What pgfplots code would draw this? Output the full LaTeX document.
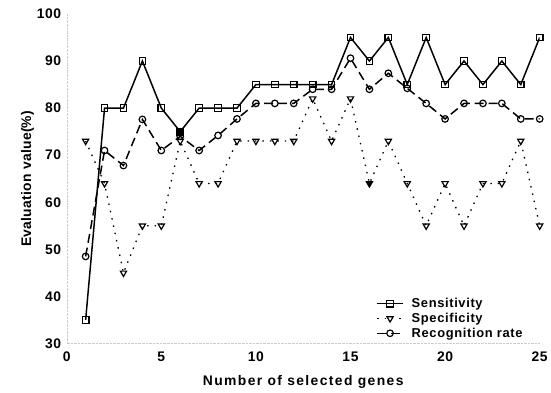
\documentclass[border=0pt]{standalone}
\usepackage{fontspec}
\setmainfont{Liberation Sans}
\usepackage{pgfplots}
\pgfplotsset{compat=1.18}
\begin{document}
\begin{tikzpicture}[x=1bp,y=1bp]
\begin{axis}[
  scale only axis, width=475bp, height=331bp,
  at={(0,0)}, anchor=south west,
  xmin=0, xmax=25, ymin=30, ymax=100,
  xtick={0,5,10,15,20,25}, ytick={30,40,50,60,70,80,90,100},
  axis lines=left, axis line style={draw=gray!40, densely dotted, -},
  tick style={draw=none},
  /pgf/number format/assume math mode=true,
  ticklabel style={font=\fontsize{14}{16}\selectfont\bfseries\addfontfeatures{LetterSpace=4}},
  xticklabel style={yshift=-3bp},
  xlabel={\fontsize{14}{16}\selectfont\bfseries\addfontfeatures{LetterSpace=10}Number of selected genes},
  ylabel={\fontsize{14}{16}\selectfont\bfseries\addfontfeatures{LetterSpace=2}Evaluation value(\%)},
  xlabel style={yshift=-7bp},
  ylabel style={yshift=-4bp},
  legend style={draw=none, fill=none, at={(0.648,0.15)}, anchor=north west,
    font=\fontsize{13}{15}\selectfont\bfseries\addfontfeatures{LetterSpace=5}, row sep=0bp,
    /tikz/every odd column/.append style={column sep=6bp}},
  legend cell align=left,
  legend image code/.code={\draw[mark repeat=2,mark phase=2] plot coordinates {(0bp,0bp) (13bp,0bp) (26bp,0bp)};},
]
\addplot[black, line width=1.5pt, mark=square, mark size=3.3bp,
  mark options={solid, fill=white, line width=1.2pt}] coordinates {
 (1,35)(2,80)(3,80)(4,90)(5,80)(6,75)(7,80)(8,80)(9,80)(10,85)
 (11,85)(12,85)(13,85)(14,85)(15,95)(16,90)(17,95)(18,85)(19,95)(20,85)
 (21,90)(22,85)(23,90)(24,85)(25,95)};
\addlegendentry{Sensitivity}
\addplot[black, line width=1.3pt, dash pattern=on 1.5pt off 6pt, mark=triangle, mark size=3.6bp,
  mark options={solid, fill=white, rotate=180, line width=1.2pt}] coordinates {
 (1,73)(2,64)(3,45)(4,55)(5,55)(6,73)(7,64)(8,64)(9,73)(10,73)
 (11,73)(12,73)(13,82)(14,73)(15,82)(16,64)(17,73)(18,64)(19,55)(20,64)
 (21,55)(22,64)(23,64)(24,73)(25,55)};
\addlegendentry{Specificity}
\addplot[black, line width=1.5pt, dash pattern=on 9pt off 5pt, mark=o, mark size=3.3bp,
  mark options={solid, fill=white, line width=1.2pt}] coordinates {
 (1,48.5)(2,71)(3,67.8)(4,77.6)(5,71)(6,74)(7,71)(8,74.2)(9,77.7)(10,81)
 (11,81)(12,81)(13,84)(14,84)(15,90.6)(16,84)(17,87.4)(18,84.2)(19,81)(20,77.7)
 (21,81)(22,81)(23,81)(24,77.7)(25,77.7)};
\addlegendentry{Recognition rate}
\addplot[only marks, mark=triangle*, mark size=3.6bp, mark options={rotate=180, fill=black}, forget plot] coordinates {(16,64)};
\addplot[only marks, mark=square*, mark size=3.3bp, mark options={fill=black}, forget plot] coordinates {(6,75)};
\end{axis}
\path[use as bounding box] (-67bp,-49bp) rectangle (484bp,345bp);
\end{tikzpicture}
\end{document}
